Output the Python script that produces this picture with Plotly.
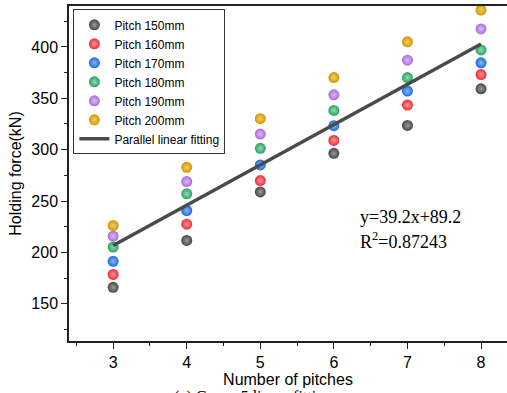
import plotly.graph_objects as go

pitches_x = [3, 4, 5, 6, 7, 8]
series_names = ["Pitch 150mm", "Pitch 160mm", "Pitch 170mm", "Pitch 180mm", "Pitch 190mm", "Pitch 200mm"]
p150 = [166, 211.7, 258.9, 296.4, 323.6, 359.2]
p160 = [178.6, 227.5, 269.9, 309, 343.4, 373.1]
p170 = [191.3, 240.8, 285.1, 323.3, 357, 384.5]
p180 = [205.2, 257, 301.3, 338.2, 370.2, 397.1]
p190 = [215.8, 269, 315.2, 353.4, 387.1, 417.5]
p200 = [226.2, 282.8, 330.1, 370.2, 404.9, 435.9]
series_values = [p150, p160, p170, p180, p190, p200]
colors = ["#474747", "#ea2c33", "#1a6be0", "#2ba262", "#a96ade", "#cf9800"]
highlights = ["#9a9a9a", "#ff9a9e", "#8ab8ff", "#8fdcae", "#dcbcf8", "#f4cf6a"]

fit_slope = 39.2
fit_intercept = 89.2
fit_x = [3, 8]
fit_y = [fit_slope * v + fit_intercept for v in fit_x]
eq_text = "y=39.2x+89.2"
r2_text = "R<sup>2</sup>=0.87243"

fig = go.Figure()
for name, vals, c, h in zip(series_names, series_values, colors, highlights):
    fig.add_trace(go.Scatter(
        x=pitches_x, y=vals, mode="markers", name=name,
        marker=dict(size=11, color=c, line=dict(width=0),
                    gradient=dict(type="radial", color=h)),
    ))
fig.add_trace(go.Scatter(
    x=fit_x, y=fit_y, mode="lines", name="Parallel linear fitting",
    line=dict(color="#4a4a4a", width=3.5),
))

fig.update_layout(
    width=507, height=393,
    margin=dict(l=69, r=0, t=6, b=52),
    plot_bgcolor="white", paper_bgcolor="white",
    font=dict(family="Liberation Sans, Arial", color="black"),
    showlegend=True,
    legend=dict(
        x=0.01, y=0.99, xanchor="left", yanchor="top",
        bgcolor="white", bordercolor="#333", borderwidth=1,
        font=dict(size=12, color="black"),
        tracegroupgap=0, itemwidth=30,
    ),
    xaxis=dict(
        range=[2.4, 8.353], tickvals=pitches_x,
        showline=True, linecolor="#222", linewidth=1.5, mirror=True,
        ticks="outside", ticklen=6, tickwidth=1.2, tickcolor="#222",
        minor=dict(ticks="outside", ticklen=3, tickwidth=1.2, tickcolor="#222", dtick=0.5, tick0=2.5),
        showgrid=False, zeroline=False,
        tickfont=dict(size=16),
        title=dict(text="Number of pitches", font=dict(size=16), standoff=4),
    ),
    yaxis=dict(
        range=[113.8, 439.8], tickvals=[150, 200, 250, 300, 350, 400],
        showline=True, linecolor="#222", linewidth=1.5, mirror=False,
        ticks="outside", ticklen=6, tickwidth=1.2, tickcolor="#222",
        minor=dict(ticks="outside", ticklen=3, tickwidth=1.2, tickcolor="#222", dtick=25, tick0=125),
        showgrid=False, zeroline=False,
        tickfont=dict(size=16),
        title=dict(text="Holding force(kN)", font=dict(size=16), standoff=6),
    ),
)

serif = dict(family="Liberation Serif, Times New Roman", size=18, color="black")
fig.add_annotation(
    x=6.33, y=234.5, xref="x", yref="y", xanchor="left", yanchor="middle",
    text=eq_text, showarrow=False, align="left", font=serif,
)
fig.add_annotation(
    x=6.33, y=211.5, xref="x", yref="y", xanchor="left", yanchor="middle",
    text=r2_text, showarrow=False, align="left", font=serif,
)
fig.add_annotation(
    x=0.42, y=-0.135, xref="paper", yref="paper", xanchor="center", yanchor="top",
    text="(a) Group 5 linear fitting", showarrow=False,
    font=dict(family="Liberation Serif, Times New Roman", size=16, color="black"),
)

fig.write_html("out.html")
